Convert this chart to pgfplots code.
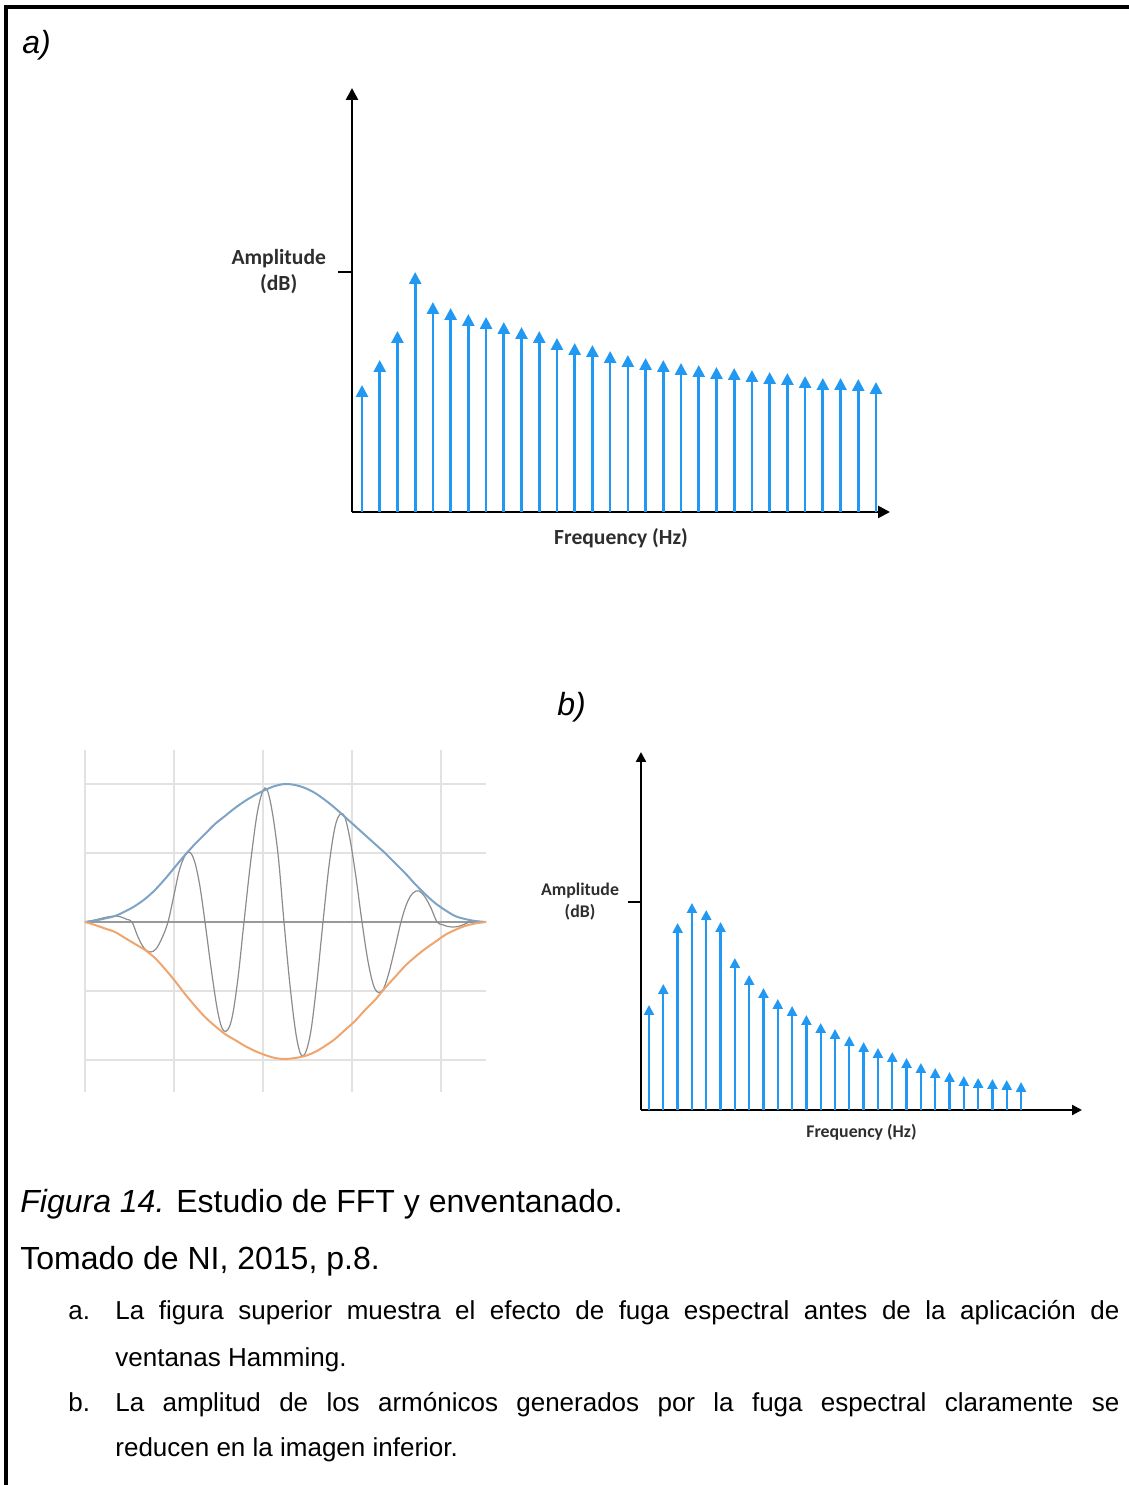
\documentclass[border=0pt]{standalone}
\usepackage{fontspec}
\setmainfont{Liberation Sans}
\newfontfamily\labelfont{Carlito}
\usepackage{pgfplots}
\usepackage{pgfplotstable}
\pgfplotsset{compat=1.18}
\usetikzlibrary{arrows.meta}

\definecolor{stem}{HTML}{2198F2}
\definecolor{envup}{HTML}{7FA3C4}
\definecolor{envlo}{HTML}{F0A56E}
\definecolor{sig}{HTML}{8C8C8C}
\definecolor{gridc}{HTML}{E2E2E2}
\definecolor{lbl}{HTML}{2E2E2E}

% spectrum of the un-windowed signal
\pgfplotstableread{
k amp
1 127
2 152
3 181
4 240
5 210
6 204
7 198
8 195
9 190
10 185
11 181
12 174
13 169
14 167
15 161
16 157
17 154
18 152
19 149
20 147
21 145
22 144
23 142
24 140
25 139
26 136
27 134
28 134
29 133
30 130
}\spectrumA

% spectrum after windowing
\pgfplotstableread{
k amp
1 105
2 126
3 187
4 207
5 200
6 188
7 152
8 135
9 122
10 111
11 104
12 95
13 87
14 81
15 74
16 68
17 62
18 58
19 52
20 47
21 42
22 38
23 34
24 32
25 31
26 30
27 28
}\spectrumB

\begin{document}
\begin{tikzpicture}
\useasboundingbox (0,0) rectangle (564.5pt,742.5pt);

% page frame
\draw[line width=2pt] (2.75pt,0) -- (2.75pt,739pt) -- (564.5pt,739pt);

% panel labels
\node[anchor=base west, inner sep=0, font=\itshape\fontsize{16}{19}\selectfont] at (11pt,715.5pt) {a)};
\node[anchor=base west, inner sep=0, font=\itshape\fontsize{16}{19}\selectfont] at (278.5pt,384.5pt) {b)};

% (a) spectrum with leakage
\begin{axis}[
  at={(176pt,486.5pt)}, anchor=south west,
  scale only axis, width=269pt, height=212pt,
  xmin=0.4358, xmax=30.79, ymin=0, ymax=424,
  axis x line=bottom, axis y line=left,
  axis line style={line width=1.3pt, -{Triangle[width=6pt,length=6pt]}},
  xtick=\empty, ytick={240}, yticklabels={{Amplitude\\(dB)}},
  yticklabel style={align=center, text=lbl, xshift=-2.5pt,
    font=\labelfont\bfseries\fontsize{10.8}{13}\selectfont},
  tick align=outside, major tick length=7pt,
  tick style={line width=1.3pt, black},
  xlabel={Frequency (Hz)},
  xlabel style={at={(axis description cs:0.5,0)}, anchor=center, yshift=-13pt,
    text=lbl, font=\labelfont\bfseries\fontsize{10.8}{13}\selectfont},
  clip=false,
]
\addplot[stem, line width=1.35pt, -{Triangle[width=6pt,length=6pt]},
  quiver={u=0, v=\thisrow{amp}}] table[x=k, y expr=0] {\spectrumA};
\end{axis}

% (b) windowed signal
\begin{axis}[
  at={(42.5pt,196.5pt)}, anchor=south west,
  scale only axis, width=200.5pt, height=171pt,
  xmin=85, xmax=486, ymin=-170, ymax=172,
  axis line style={draw=none},
  xtick={85,174,263,352,441}, ytick={-138,-69,69,138},
  xticklabels={}, yticklabels={}, major tick length=0pt,
  grid=major, grid style={gridc, line width=0.6pt},
  clip=false,
]
\addplot[black!40, line width=0.7pt] coordinates {(85,0) (486,0)};
% windowed sine
\addplot[sig, line width=0.6pt, smooth, tension=0.6] coordinates {
(85,0) (95,2) (105,4.5) (115,6) (121,5) (127,2.5) (132,0)
(138,-15) (144,-26) (150,-30) (156,-27) (162,-16) (168,0)
(174,27) (180,54) (187,69) (193,65) (199,41) (205,0)
(211.5,-49) (218,-91) (224,-109) (231,-100) (237.5,-60) (244,0)
(251,63) (258,113) (265,134) (271,117) (278,68) (284,0)
(290.5,-68) (297,-118) (303,-134) (310,-114) (316.5,-64) (323,0)
(329.5,60) (336,99) (343,108) (349,88) (355.5,48) (362,0)
(368.5,-42) (375,-67) (382,-69) (388,-54) (394.5,-28) (401,0)
(407,19) (413,29) (419,31) (425,25) (431,14) (437,0)
(442,-2.5) (447,-4.3) (453,-5) (459,-4.3) (464,-2.5) (470,0)
(478,0) (486,0)};
% upper envelope
\addplot[envup, line width=1pt, smooth] coordinates {
(85,0) (95,1.5) (105,3.5) (115,6) (125,10.5) (135,16) (145,23) (155,32)
(165,43) (175,55) (185,67) (195,78) (205,88) (215,98) (225,106) (235,114)
(245,121) (255,127) (265,132) (275,136) (285,138) (295,137) (305,134)
(315,129) (325,122) (335,114) (345,105) (355,96) (365,87) (375,78) (385,69)
(395,59) (405,49) (415,38) (425,28) (435,19) (445,12) (455,6) (465,3)
(475,1) (486,0)};
% lower envelope
\addplot[envlo, line width=1pt, smooth] coordinates {
(85,0) (95,-3) (105,-6.5) (115,-10) (125,-16) (135,-22) (145,-28) (155,-36)
(165,-47) (175,-59) (185,-72) (195,-84) (205,-95) (215,-104) (225,-112)
(235,-118) (245,-124) (255,-129) (265,-133) (275,-136) (285,-137)
(295,-136) (305,-134) (315,-130) (325,-124) (335,-117) (345,-108) (355,-99)
(365,-88) (375,-78) (385,-66) (395,-55) (405,-44) (415,-35) (425,-27)
(435,-20) (445,-13) (455,-8) (465,-4) (475,-1.5) (486,0)};
\end{axis}

% (b) spectrum with reduced leakage
\begin{axis}[
  at={(320.5pt,187.5pt)}, anchor=south west,
  scale only axis, width=220.5pt, height=179pt,
  xmin=0.441, xmax=31.26, ymin=0, ymax=358,
  axis x line=bottom, axis y line=left,
  axis line style={line width=1.1pt, -{Triangle[width=5pt,length=5pt]}},
  xtick=\empty, ytick={208}, yticklabels={{Amplitude\\(dB)}},
  yticklabel style={align=center, text=lbl, xshift=-1pt,
    font=\labelfont\bfseries\fontsize{8.9}{11}\selectfont},
  tick align=outside, major tick length=6.5pt,
  tick style={line width=1.1pt, black},
  xlabel={Frequency (Hz)},
  xlabel style={at={(axis description cs:0.5,0)}, anchor=center, yshift=-11pt,
    text=lbl, font=\labelfont\bfseries\fontsize{8.9}{11}\selectfont},
  clip=false,
]
\addplot[stem, line width=1.15pt, -{Triangle[width=5pt,length=5pt]},
  quiver={u=0, v=\thisrow{amp}}] table[x=k, y expr=0] {\spectrumB};
\end{axis}

% caption and notes
\node[anchor=base west, inner sep=0, font=\fontsize{16}{19}\selectfont] at (10pt,136pt)
  {\textit{Figura 14.} Estudio de FFT y enventanado.};
\node[anchor=base west, inner sep=0, font=\fontsize{16}{19}\selectfont] at (10pt,107.5pt)
  {Tomado de NI, 2015, p.8.};
\begin{scope}[every node/.style={anchor=base west, inner sep=0, font=\fontsize{13}{15}\selectfont}]
\node at (34pt,82.5pt) {a.};
\node at (57.5pt,82.5pt) {\hbox to 502pt{La figura superior muestra el efecto de fuga espectral antes de la aplicación de}};
\node at (57.5pt,59.5pt) {ventanas Hamming.};
\node at (34pt,36.5pt) {b.};
\node at (57.5pt,36.5pt) {\hbox to 502pt{La amplitud de los armónicos generados por la fuga espectral claramente se}};
\node at (57.5pt,14pt) {reducen en la imagen inferior.};
\end{scope}
\end{tikzpicture}
\end{document}
